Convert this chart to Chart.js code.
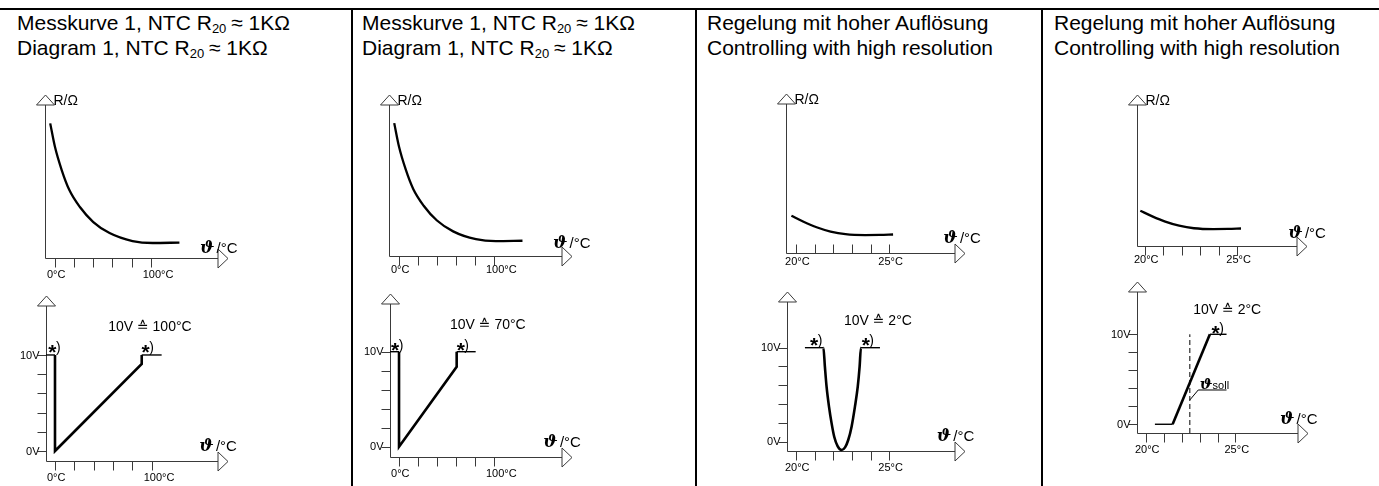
<!DOCTYPE html>
<html>
<head>
<meta charset="utf-8">
<script src="https://cdn.jsdelivr.net/npm/chart.js"></script>
<style>
  body { margin: 0; width: 1379px; height: 486px; background: #fff; position: relative; overflow: hidden;
         font-family: "Liberation Sans", Arial, sans-serif; color: #000; }
  .hline { position: absolute; left: 0; top: 7.5px; width: 1379px; height: 2px; background: #000; }
  .vline { position: absolute; top: 8px; width: 2px; height: 478px; background: #000; }
  .title { position: absolute; top: 9.5px; font-size: 21px; line-height: 25px; white-space: nowrap; }
  .title sub { font-size: 13px; vertical-align: -3px; line-height: 0; margin-right: -1px; }
  canvas { position: absolute; }
</style>
</head>
<body>
<div class="hline"></div>
<div class="vline" style="left:351px"></div>
<div class="vline" style="left:695px"></div>
<div class="vline" style="left:1041px"></div>

<div class="title" style="left:17px">Messkurve 1, NTC R<sub>20</sub> ≈ 1KΩ<br>Diagram 1, NTC R<sub>20</sub> ≈ 1KΩ</div>
<div class="title" style="left:362px">Messkurve 1, NTC R<sub>20</sub> ≈ 1KΩ<br>Diagram 1, NTC R<sub>20</sub> ≈ 1KΩ</div>
<div class="title" style="left:707px">Regelung mit hoher Auflösung<br>Controlling with high resolution</div>
<div class="title" style="left:1054px">Regelung mit hoher Auflösung<br>Controlling with high resolution</div>

<script>
// NTC resistance curve, 0..100°C range (relative R)
const ntcTemp = [-5, 0, 7, 15, 26, 40, 57, 81, 102, 130];
const ntcR    = [88, 72.5, 57.5, 44.4, 33.3, 23.5, 16.3, 11.1, 9.8, 10.1];

// NTC resistance curve, 20..25°C range
const hiResTemp = [19.75, 20.4, 21.1, 21.85, 22.65, 23.7, 24.5, 25.2];
const hiResR    = [25, 21, 17.3, 14.4, 12.6, 12, 12.1, 12.4];

// output voltage, 10V = 100°C
const out100Temp = [-9.3, 0, 0, 89.7, 89.7, 110.3];
const out100Volt = [10, 10, 0, 9.06, 10, 10];

// output voltage, 10V = 70°C
const out70Temp = [-9.5, 0, 0, 60.7, 60.7, 80.7];
const out70Volt = [10, 10, 0, 8.42, 10, 10];

// output voltage, 10V = 2°C, band around the set point
const bandTemp = [20.48, 21.47, 21.55, 21.64, 21.77, 21.91, 22.05, 22.23, 22.45, 22.63, 22.8, 22.98, 23.16, 23.31, 23.41, 23.48, 24.5];
const bandVolt = [10, 10, 7.98, 5.85, 3.73, 1.95, 0.53, -0.46, -0.88, -0.6, 0.18, 1.6, 3.73, 5.85, 7.98, 10, 10];

// output voltage, 10V = 2°C, ramp through the set point
const rampTemp = [20.5, 21.49, 23.57, 24.5];
const rampVolt = [0, 0, 10, 10];
const sollLineTemp = [22.45, 22.45];
const sollLineVolt = [-0.97, 10];
const sollLeaderTemp = [22.45, 22.92, 24.5];
const sollLeaderVolt = [2.7, 3.81, 3.81];

// axis ticks and their labels
const tempTicksWide = [0, 20, 40, 60, 80, 100];
const tempLabelsWide = ['0°C', '', '', '', '', '100°C'];
const tempTicksNarrow = [20, 21, 22, 23, 24, 25];
const tempLabelsNarrow = ['20°C', '', '', '', '', '25°C'];
const voltTicks = [0, 2, 4, 6, 8, 10];
const voltLabels = ['0V', '', '', '', '', '10V'];

const INK = '#000';
const AXIS = '#3a3a3a';
const PAD = { left: 45, top: 20, right: 45, bottom: 30 };

// layout of the eight small diagrams (pixel frame + value ranges)
const panels = [
  { ox: 45, oy: 258, xr: 218, yt: 105, x: [-10.45, 170.3], y: [0, 100], wide: true, volt: false,
    tickDir: 1, labelDy: 20.3, thX: -18, thY: -5 },
  { ox: 46, oy: 461, xr: 218, yt: 306, x: [-9.3, 168.6], y: [-1.04, 15.1], wide: true, volt: true,
    tickDir: 1, labelDy: 19.7, thX: -18.7, thY: -10,
    note: { text: '10V ≙ 100°C', x: 55, y: 12.5 }, stars: [[-7, 10.34], [89.5, 10.34]] },
  { ox: 389, oy: 256, xr: 562, yt: 105, x: [-10.5, 171.6], y: [0, 100], wide: true, volt: false,
    tickDir: 1, labelDy: 17.3, thX: -9, thY: -7.7 },
  { ox: 390, oy: 457, xr: 562, yt: 304, x: [-9.5, 171.6], y: [-1.08, 15.02], wide: true, volt: true,
    tickDir: 1, labelDy: 19.7, thX: -18.7, thY: -10.3,
    note: { text: '10V ≙ 70°C', x: 53.7, y: 12.4 }, stars: [[-8.4, 10.18], [60.7, 10.18]] },
  { ox: 786, oy: 253, xr: 955, yt: 104, x: [19.46, 28.52], y: [0, 100], wide: false, volt: false,
    tickDir: -1, labelDy: 12, thX: -11.7, thY: -9.7 },
  { ox: 787, oy: 451, xr: 955, yt: 302, x: [19.52, 28.52], y: [-0.99, 14.86], wide: false, volt: true,
    tickDir: 1, labelDy: 19.7, thX: -18.3, thY: -10,
    note: { text: '10V ≙ 2°C', x: 22.57, y: 12.4 }, stars: [[20.75, 10.29], [23.52, 10.29]] },
  { ox: 1137, oy: 246, xr: 1297, yt: 105, x: [19.57, 28.23], y: [0, 100], wide: false, volt: false,
    tickDir: 1, labelDy: 17.3, thX: -8.7, thY: -7.7 },
  { ox: 1137, oy: 433, xr: 1298, yt: 292, x: [19.5, 28.49], y: [-0.97, 14.7], wide: false, volt: true,
    tickDir: 1, labelDy: 19.7, thX: -18, thY: -9,
    note: { text: '10V ≙ 2°C', x: 22.64, y: 12.3 }, stars: [[23.66, 10.1]], soll: { x: 23.01, y: 3.92 } },
];

function pts(xs, ys) {
  return xs.map((x, i) => ({ x, y: ys[i] }));
}

function curveSet(xs, ys) {
  return { data: pts(xs, ys), showLine: true, borderColor: INK, borderWidth: 2.3, pointRadius: 0,
           cubicInterpolationMode: 'monotone', clip: false };
}

// flat (limited) parts of the output are drawn thin, the rest thick
function outputSet(xs, ys, smooth) {
  return { data: pts(xs, ys), showLine: true, borderColor: INK, borderWidth: 2.6, pointRadius: 0,
           cubicInterpolationMode: smooth ? 'monotone' : 'default', tension: 0, clip: false,
           segment: { borderWidth: ctx => ctx.p0.parsed.y === ctx.p1.parsed.y ? 1.4 : 2.6 } };
}

function thinSet(xs, ys, dash) {
  return { data: pts(xs, ys), showLine: true, borderColor: INK, borderWidth: 1, pointRadius: 0,
           borderDash: dash || [], tension: 0, clip: false };
}

const panelData = [
  [curveSet(ntcTemp, ntcR)],
  [outputSet(out100Temp, out100Volt)],
  [curveSet(ntcTemp, ntcR)],
  [outputSet(out70Temp, out70Volt)],
  [curveSet(hiResTemp, hiResR)],
  [outputSet(bandTemp, bandVolt, true)],
  [curveSet(hiResTemp, hiResR)],
  [outputSet(rampTemp, rampVolt), thinSet(sollLineTemp, sollLineVolt, [5, 3]), thinSet(sollLeaderTemp, sollLeaderVolt)],
];

function drawStar(ctx, px, py) {
  ctx.font = 'bold 21px "Liberation Sans", Arial';
  ctx.textAlign = 'left';
  ctx.fillText('*', px, py + 7);
  const w = ctx.measureText('*').width;
  ctx.font = '14px "Liberation Sans", Arial';
  ctx.fillText(')', px + w - 0.5, py);
}

const sketchAxes = {
  id: 'sketchAxes',
  beforeDatasetsDraw(chart, args, opts) {
    const p = panels[opts.index];
    const { ctx, chartArea: a, scales: { x, y } } = chart;
    const X0 = Math.round(a.left) + 0.5;
    const Y0 = Math.round(a.bottom) + 0.5;
    ctx.save();
    ctx.strokeStyle = AXIS;
    ctx.lineWidth = 1;
    ctx.beginPath();
    ctx.moveTo(X0, Y0); ctx.lineTo(a.right, Y0);
    ctx.moveTo(X0, Y0); ctx.lineTo(X0, a.top);

    // temperature ticks
    const xt = p.wide ? tempTicksWide : tempTicksNarrow;
    xt.forEach(v => {
      const px = Math.round(x.getPixelForValue(v)) + 0.5;
      ctx.moveTo(px, Y0); ctx.lineTo(px, Y0 + p.tickDir * 9);
    });
    // voltage ticks
    if (p.volt) {
      voltTicks.forEach(v => {
        const py = Math.round(y.getPixelForValue(v)) + 0.5;
        ctx.moveTo(X0 - 9, py); ctx.lineTo(X0, py);
      });
    }
    ctx.stroke();

    // hollow arrow heads
    ctx.fillStyle = '#fff';
    ctx.beginPath();
    ctx.moveTo(a.right, Y0 - 9.5); ctx.lineTo(a.right + 10, Y0); ctx.lineTo(a.right, Y0 + 9.5); ctx.closePath();
    ctx.fill(); ctx.stroke();
    ctx.beginPath();
    ctx.moveTo(X0 - 9, a.top); ctx.lineTo(X0, a.top - 10); ctx.lineTo(X0 + 9, a.top); ctx.closePath();
    ctx.fill(); ctx.stroke();
    ctx.restore();
  },
  afterDatasetsDraw(chart, args, opts) {
    const p = panels[opts.index];
    const { ctx, chartArea: a, scales: { x, y } } = chart;
    const X0 = Math.round(a.left) + 0.5;
    ctx.save();
    ctx.fillStyle = INK;
    ctx.textBaseline = 'alphabetic';

    // temperature labels
    ctx.font = '11px "Liberation Sans", Arial';
    ctx.textAlign = 'left';
    const xt = p.wide ? tempTicksWide : tempTicksNarrow;
    const xl = p.wide ? tempLabelsWide : tempLabelsNarrow;
    xt.forEach((v, i) => {
      if (!xl[i]) return;
      const px = x.getPixelForValue(v);
      ctx.fillText(xl[i], px - (p.wide ? 8 : 11), a.bottom + p.labelDy);
    });

    // voltage labels
    if (p.volt) {
      ctx.textAlign = 'right';
      ctx.textBaseline = 'middle';
      voltTicks.forEach((v, i) => {
        if (!voltLabels[i]) return;
        ctx.fillText(voltLabels[i], X0 - 7, y.getPixelForValue(v) + 0.5);
      });
      ctx.textBaseline = 'alphabetic';
    } else {
      ctx.textAlign = 'left';
      ctx.font = '14px "Liberation Sans", Arial';
      ctx.fillText('R/Ω', X0 + 8, a.top);
    }

    // ϑ /°C
    ctx.textAlign = 'left';
    ctx.font = 'bold italic 17px "DejaVu Serif"';
    const tx = a.right + p.thX, ty = a.bottom + p.thY;
    ctx.fillText('ϑ', tx, ty);
    const tw = ctx.measureText('ϑ').width;
    ctx.font = '15px "Liberation Sans", Arial';
    ctx.fillText(' /°C', tx + tw - 2, ty);

    if (p.note) {
      ctx.font = '14px "Liberation Sans", Arial, "DejaVu Sans"';
      ctx.fillText(p.note.text, x.getPixelForValue(p.note.x), y.getPixelForValue(p.note.y));
    }
    (p.stars || []).forEach(s => drawStar(ctx, x.getPixelForValue(s[0]), y.getPixelForValue(s[1])));

    if (p.soll) {
      const sx = x.getPixelForValue(p.soll.x), sy = y.getPixelForValue(p.soll.y);
      ctx.font = 'bold italic 15px "DejaVu Serif"';
      ctx.fillText('ϑ', sx, sy);
      const w = ctx.measureText('ϑ').width;
      ctx.font = '11px "Liberation Sans", Arial';
      ctx.fillText('soll', sx + w, sy);
    }
    ctx.restore();
  }
};

panels.forEach((p, i) => {
  const c = document.createElement('canvas');
  const w = p.xr - p.ox + PAD.left + PAD.right;
  const h = p.oy - p.yt + PAD.top + PAD.bottom;
  c.width = w; c.height = h;
  c.style.left = (p.ox - PAD.left) + 'px';
  c.style.top = (p.yt - PAD.top) + 'px';
  c.style.width = w + 'px';
  c.style.height = h + 'px';
  document.body.appendChild(c);

  new Chart(c, {
    type: 'scatter',
    data: { datasets: panelData[i] },
    options: {
      responsive: false,
      animation: false,
      devicePixelRatio: 1,
      events: [],
      layout: { padding: PAD },
      plugins: { legend: { display: false }, tooltip: { enabled: false }, sketchAxes: { index: i } },
      scales: {
        x: { type: 'linear', display: false, min: p.x[0], max: p.x[1] },
        y: { type: 'linear', display: false, min: p.y[0], max: p.y[1] }
      }
    },
    plugins: [sketchAxes]
  });
});
</script>
</body>
</html>
